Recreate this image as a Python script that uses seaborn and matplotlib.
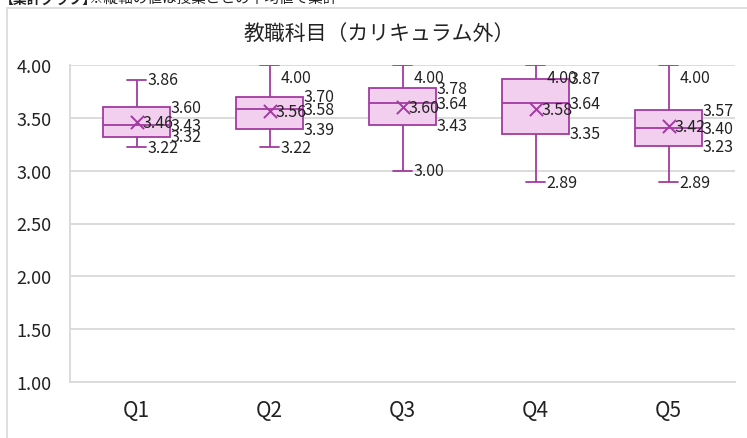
import matplotlib
matplotlib.use("Agg")
import matplotlib.pyplot as plt
from matplotlib.patches import Rectangle
import numpy as np
import pandas as pd
import seaborn as sns

# Five-number summaries and means per question
questions = ["Q1", "Q2", "Q3", "Q4", "Q5"]
q_min = [3.22, 3.22, 3.00, 2.89, 2.89]
q_low = [3.32, 3.39, 3.43, 3.35, 3.23]
q_med = [3.43, 3.58, 3.64, 3.64, 3.40]
q_high = [3.60, 3.70, 3.78, 3.87, 3.57]
q_max = [3.86, 4.00, 4.00, 4.00, 4.00]
q_mean = [3.46, 3.56, 3.60, 3.58, 3.42]

y_ticks = [1.00, 1.50, 2.00, 2.50, 3.00, 3.50, 4.00]
title = "教職科目（カリキュラム外）"
header_tag = "【集計グラフ】"
header_note = "※縦軸の値は授業ごとの平均値で集計"

EDGE = "#A23BA0"
FILL = "#F2CFEE"
GRID = "#D9D9D9"
TEXT = "#222222"

sns.set_theme(style="white")
plt.rcParams["font.family"] = ["Noto Sans CJK JP", "DejaVu Sans"]

# Long-form table: five points per question reproduce its quartiles exactly
rows = []
for i, q in enumerate(questions):
    for v in (q_min[i], q_low[i], q_med[i], q_high[i], q_max[i]):
        rows.append({"question": q, "score": v})
df = pd.DataFrame(rows)
means = pd.DataFrame({"question": questions, "score": q_mean})

fig = plt.figure(figsize=(7.47, 4.39), dpi=100)
ax = fig.add_axes([70 / 747, (439 - 383) / 439, 665 / 747, (383 - 66) / 439])

# Outer chart frame
fig.patches.append(Rectangle((7 / 747, -0.1), 2.0, (439 - 9) / 439 + 0.1,
                             transform=fig.transFigure, fill=False,
                             edgecolor=GRID, linewidth=1.2, zorder=0))

sns.boxplot(data=df, x="question", y="score", ax=ax, width=0.5, whis=np.inf,
            capwidths=0.15, linewidth=1.3, color=FILL, fill=True,
            boxprops=dict(facecolor=FILL, edgecolor=EDGE),
            whiskerprops=dict(color=EDGE), capprops=dict(color=EDGE),
            medianprops=dict(color=EDGE), showfliers=False, zorder=3)
sns.scatterplot(data=means, x="question", y="score", ax=ax, marker="x",
                s=90, color=EDGE, linewidth=1.4, zorder=4, legend=False)

ax.set_ylim(1.0, 4.0)
ax.set_xlim(-0.5, len(questions) - 0.5)
ax.set_yticks(y_ticks)
ax.set_yticklabels([f"{v:.2f}" for v in y_ticks], fontsize=13, color=TEXT)
ax.tick_params(axis="x", labelsize=15, colors=TEXT, length=0, pad=12)
ax.tick_params(axis="y", length=0, pad=13)
ax.set_xlabel("")
ax.set_ylabel("")
ax.yaxis.grid(True, color=GRID, linewidth=1.3)
ax.set_axisbelow(True)
for side in ("top", "right"):
    ax.spines[side].set_visible(False)
for side in ("left", "bottom"):
    ax.spines[side].set_color(GRID)
    ax.spines[side].set_linewidth(1.3)

# Data labels
lab = dict(fontsize=11.5, color=TEXT, va="center", ha="left", zorder=5)
for i in range(len(questions)):
    ax.text(i + 0.08, min(q_max[i], 3.885), f"{q_max[i]:.2f}", **lab)
    ax.text(i + 0.08, q_min[i], f"{q_min[i]:.2f}", **lab)
    ax.text(i + 0.255, q_high[i], f"{q_high[i]:.2f}", **lab)
    ax.text(i + 0.255, q_med[i], f"{q_med[i]:.2f}", **lab)
    ax.text(i + 0.255, q_low[i], f"{q_low[i]:.2f}", **lab)
    ax.text(i + 0.045, q_mean[i], f"{q_mean[i]:.2f}", **lab)

fig.text(379 / 747, 1 - 34 / 439, title, fontsize=15, ha="center", va="center",
         color=TEXT)
fig.text(0.0, 1 + 0.5 / 439, header_tag, fontsize=10, ha="left",
         va="center", color=TEXT, fontweight="bold")
fig.text(89 / 747, 1 + 0.5 / 439, header_note, fontsize=10.5, ha="left",
         va="center", color=TEXT)

fig.savefig("out.png", dpi=100)
